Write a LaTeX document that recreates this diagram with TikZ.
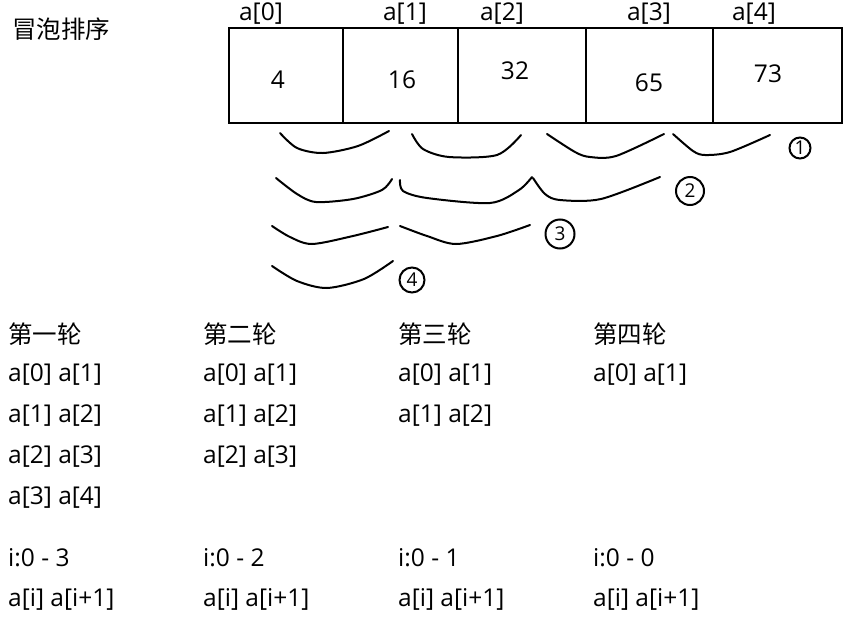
\documentclass[tikz,border=0pt]{standalone}
\usepackage{fontspec}
\setmainfont{Open Sans}
\newfontfamily\cjk{Noto Sans CJK SC}
\begin{document}
\begin{tikzpicture}[x=1pt, y=-1pt,
  txt/.style={anchor=west, inner sep=0pt, font=\fontsize{24.5}{28}\selectfont},
  num/.style={inner sep=0pt, font=\fontsize{24.5}{28}\selectfont},
  cell/.style={draw, line width=2.4pt, inner sep=0pt, minimum height=95pt},
  swap/.style={line width=2pt, line cap=round, line join=round},
  circnum/.style={draw, circle, line width=2pt, inner sep=0pt, minimum size=24pt, font=\fontsize{19}{19}\selectfont}]
  \useasboundingbox (0,0) rectangle (857,616);
  \node[txt] (title) at (12,29) {\cjk 冒泡排序};
  \node[cell, minimum width=114pt] (c0) at (286,75.5) {};
  \node[cell, minimum width=115pt] (c1) at (400.5,75.5) {};
  \node[cell, minimum width=128pt] (c2) at (522,75.5) {};
  \node[cell, minimum width=127pt] (c3) at (649.5,75.5) {};
  \node[cell, minimum width=129pt] (c4) at (777.5,75.5) {};
  \node[num] (l0) at (261,14) {a[0]};
  \node[num] (l1) at (405,14) {a[1]};
  \node[num] (l2) at (502,14) {a[2]};
  \node[num] (l3) at (649,14) {a[3]};
  \node[num] (l4) at (754,14) {a[4]};
  \node[num] (n0) at (278,80) {4};
  \node[num] (n1) at (402,80) {16};
  \node[num] (n2) at (515,71) {32};
  \node[num] (n3) at (649,83) {65};
  \node[num] (n4) at (768,74) {73};
  \draw[swap] plot[smooth] coordinates {(280,133) (297,148) (323,153) (358,146) (389,131)};
  \draw[swap] plot[smooth] coordinates {(412,134) (423,149) (449,157) (497,155) (521,135)};
  \draw[swap] plot[smooth] coordinates {(547,134) (575,152) (590,157) (616,156) (664,134)};
  \draw[swap] plot[smooth] coordinates {(673,134) (693,151) (705,155) (730,152) (770,135)};
  \draw[swap] plot[smooth] coordinates {(276,178) (297,194) (316,202) (353,199) (382,190) (392,179)};
  \draw[swap] plot[smooth] coordinates {(400,180) (403,191) (427,198) (490,203) (519,190) (532,177)};
  \draw[swap] plot[smooth] coordinates {(533,178) (545,194) (560,200) (601,199) (660,177)};
  \draw[swap] plot[smooth] coordinates {(272,226) (290,237) (312,244) (353,236) (388,227)};
  \draw[swap] plot[smooth] coordinates {(400,226) (427,236) (456,244) (497,236) (530,225)};
  \draw[swap] plot[smooth] coordinates {(272,266) (297,281) (327,288) (364,279) (393,261)};
  \node[circnum, minimum size=21pt] (r1) at (800,148) {1};
  \node[circnum, minimum size=28pt] (r2) at (690,191) {2};
  \node[circnum, minimum size=29pt] (r3) at (560,234) {3};
  \node[circnum, minimum size=25pt] (r4) at (412,280) {4};
  \node[txt] (h1) at (8,334) {\cjk 第一轮};
  \node[txt] (h2) at (203,334) {\cjk 第二轮};
  \node[txt] (h3) at (398,334) {\cjk 第三轮};
  \node[txt] (h4) at (593,334) {\cjk 第四轮};
  \node[txt] (p11) at (8,375) {a[0] a[1]};
  \node[txt] (p12) at (8,416) {a[1] a[2]};
  \node[txt] (p13) at (8,457) {a[2] a[3]};
  \node[txt] (p14) at (8,498) {a[3] a[4]};
  \node[txt] (p21) at (203,375) {a[0] a[1]};
  \node[txt] (p22) at (203,416) {a[1] a[2]};
  \node[txt] (p23) at (203,457) {a[2] a[3]};
  \node[txt] (p31) at (398,375) {a[0] a[1]};
  \node[txt] (p32) at (398,416) {a[1] a[2]};
  \node[txt] (p41) at (593,375) {a[0] a[1]};
  \node[txt] (i1) at (8,558) {i:0 - 3};
  \node[txt] (i2) at (203,558) {i:0 - 2};
  \node[txt] (i3) at (398,558) {i:0 - 1};
  \node[txt] (i4) at (593,558) {i:0 - 0};
  \node[txt] (q1) at (8,599) {a[i] a[i+1]};
  \node[txt] (q2) at (203,599) {a[i] a[i+1]};
  \node[txt] (q3) at (398,599) {a[i] a[i+1]};
  \node[txt] (q4) at (593,599) {a[i] a[i+1]};
\end{tikzpicture}
\end{document}
